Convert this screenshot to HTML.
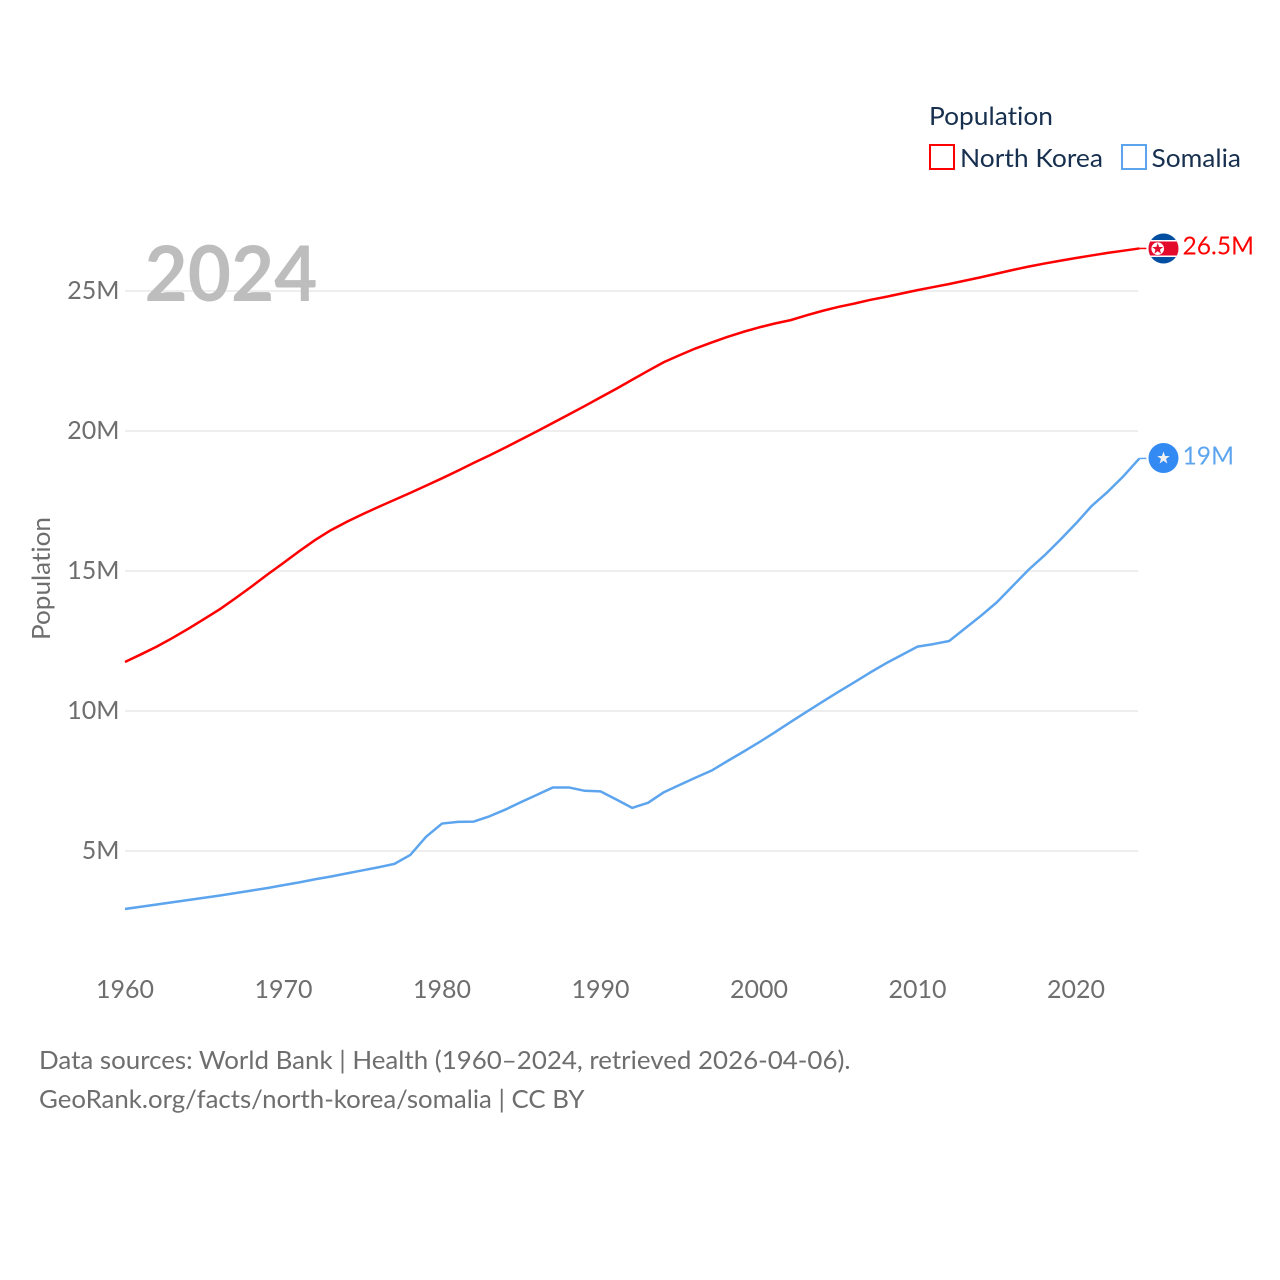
<!DOCTYPE html>
<html lang="en">
<head>
<meta charset="utf-8">
<title>North Korea and Somalia population</title>
<style>
html,body{margin:0;padding:0;background:#fff}
svg{display:block}
text{font-family:"Lato","Carlito","Liberation Sans",sans-serif;font-variant-ligatures:none}
</style>
</head>
<body>
<svg id="chart" xmlns="http://www.w3.org/2000/svg" width="1280" height="1280" viewBox="0 0 1280 1280">
  <defs>
    <clipPath id="flag-clip"><circle cx="1163.5" cy="248.5" r="15"/></clipPath>
  </defs>
  <rect width="1280" height="1280" fill="#fff"/>
  <g id="grid"></g>
  <text x="144.5" y="301" font-size="77" font-weight="700" fill="#bdbdbd" textLength="173" lengthAdjust="spacingAndGlyphs">2024</text>
  <g id="y-axis"></g>
  <g id="x-axis"></g>
  <text transform="translate(50 640) rotate(-90)" font-size="25" fill="#6e6e6e" textLength="123" lengthAdjust="spacingAndGlyphs">Population</text>
  <g id="series"></g>

  <g>
    <g clip-path="url(#flag-clip)">
      <rect x="1148" y="232" width="32" height="33" fill="#024fa2"/>
      <rect x="1148" y="240" width="32" height="17" fill="#fff"/>
      <rect x="1148" y="241.5" width="32" height="14" fill="#e30a2c"/>
    </g>
    <circle cx="1157.7" cy="248.7" r="6.3" fill="#fff"/>
    <polygon fill="#e30a2c" points="1157.7,243 1159.1,247 1163.2,247 1159.9,249.6 1161.1,253.6 1157.7,251.2 1154.3,253.6 1155.5,249.6 1152.2,247 1156.3,247"/>
  </g>
  <g>
    <circle cx="1163.5" cy="458" r="15" fill="#338af3"/>
    <polygon fill="#f0f0f0" points="1163.5,451.5 1165.1,456 1169.8,456 1166,458.9 1167.4,463.5 1163.5,460.7 1159.6,463.5 1161,458.9 1157.2,456 1161.9,456"/>
  </g>
  <text id="label-nk" x="1182.5" y="254.5" font-size="25" fill="#ff0000" textLength="71.5" lengthAdjust="spacingAndGlyphs"></text>
  <text id="label-so" x="1182.5" y="464.5" font-size="25" fill="#5ca5ee" textLength="51.5" lengthAdjust="spacingAndGlyphs"></text>

  <g>
    <text x="929" y="125" font-size="25.5" fill="#17304f" textLength="124" lengthAdjust="spacingAndGlyphs">Population</text>
    <g>
      <rect x="930" y="145" width="24" height="24" fill="none" stroke="#ff0000" stroke-width="2"/>
      <text x="960" y="167" font-size="25.5" fill="#17304f" textLength="143" lengthAdjust="spacingAndGlyphs">North Korea</text>
    </g>
    <g>
      <rect x="1122" y="145" width="24" height="24" fill="none" stroke="#5ca5ee" stroke-width="2"/>
      <text x="1151.5" y="167" font-size="25.5" fill="#17304f" textLength="89.5" lengthAdjust="spacingAndGlyphs">Somalia</text>
    </g>
  </g>

  <text x="39" y="1069" font-size="25" fill="#6e6e6e" textLength="811.5" lengthAdjust="spacingAndGlyphs">Data sources: World Bank | Health (1960–2024, retrieved 2026-04-06).</text>
  <text x="39" y="1108" font-size="25" fill="#6e6e6e" textLength="545.5" lengthAdjust="spacingAndGlyphs">GeoRank.org/facts/north-korea/somalia | CC BY</text>
</svg>
<script>
var years = [1960,1961,1962,1963,1964,1965,1966,1967,1968,1969,1970,1971,1972,1973,1974,1975,1976,1977,1978,1979,1980,1981,1982,1983,1984,1985,1986,1987,1988,1989,1990,1991,1992,1993,1994,1995,1996,1997,1998,1999,2000,2001,2002,2003,2004,2005,2006,2007,2008,2009,2010,2011,2012,2013,2014,2015,2016,2017,2018,2019,2020,2021,2022,2023,2024];
var northKorea = [11.75,12.02,12.30,12.61,12.94,13.29,13.64,14.04,14.45,14.88,15.29,15.71,16.11,16.46,16.76,17.03,17.29,17.54,17.79,18.05,18.31,18.58,18.86,19.13,19.41,19.70,19.99,20.29,20.59,20.89,21.20,21.51,21.83,22.15,22.46,22.71,22.95,23.16,23.36,23.54,23.70,23.84,23.96,24.13,24.29,24.43,24.55,24.68,24.79,24.91,25.03,25.14,25.25,25.37,25.49,25.62,25.75,25.87,25.98,26.08,26.18,26.27,26.36,26.44,26.52];
var somalia = [2.93,3.01,3.09,3.17,3.25,3.33,3.41,3.50,3.59,3.68,3.78,3.88,3.99,4.09,4.20,4.31,4.42,4.54,4.86,5.51,5.98,6.04,6.05,6.24,6.48,6.75,7.01,7.27,7.27,7.15,7.13,6.84,6.54,6.72,7.10,7.36,7.62,7.87,8.21,8.54,8.88,9.24,9.61,9.97,10.33,10.68,11.02,11.37,11.70,12.00,12.30,12.39,12.50,12.95,13.40,13.88,14.46,15.04,15.55,16.11,16.70,17.33,17.83,18.39,19.02];
var yTickValues = [5,10,15,20,25];
var xTickValues = [1960,1970,1980,1990,2000,2010,2020];
var endLabelNorthKorea = "26.5M";
var endLabelSomalia = "19M";

var NS = "http://www.w3.org/2000/svg";
function xScale(year){ return 125 + (year - 1960) * 15.85; }
function yScale(v){ return 991 - v * 28; }
function make(tag, parent){
  var el = document.createElementNS(NS, tag);
  parent.appendChild(el);
  return el;
}
function linePath(values){
  var d = "";
  for (var i = 0; i < values.length; i++){
    d += (i ? "L" : "M") + xScale(years[i]).toFixed(2) + " " + yScale(values[i]).toFixed(2);
  }
  return d;
}

var grid = document.getElementById("grid");
var yAxis = document.getElementById("y-axis");
var xAxis = document.getElementById("x-axis");
var series = document.getElementById("series");

yTickValues.forEach(function(v){
  var line = make("line", grid);
  
  
  line.setAttribute("x1", 125);
  line.setAttribute("x2", 1138);
  line.setAttribute("y1", yScale(v));
  line.setAttribute("y2", yScale(v));
  line.setAttribute("stroke", "#e9e9e9");
  line.setAttribute("stroke-width", "1.5");
  var t = make("text", yAxis);
  
  
  t.setAttribute("x", 119.5);
  t.setAttribute("y", yScale(v) + 8);
  t.setAttribute("text-anchor", "end");
  t.setAttribute("font-size", "25");
  t.setAttribute("fill", "#6e6e6e");
  t.textContent = v + "M";
});

xTickValues.forEach(function(year){
  var t = make("text", xAxis);
  
  
  t.setAttribute("x", xScale(year));
  t.setAttribute("y", 998);
  t.setAttribute("text-anchor", "middle");
  t.setAttribute("font-size", "25");
  t.setAttribute("fill", "#6e6e6e");
  t.textContent = year;
});

function drawSeries(values, color, name){
  var p = make("path", series);
  
  
  p.setAttribute("d", linePath(values));
  p.setAttribute("fill", "none");
  p.setAttribute("stroke", color);
  p.setAttribute("stroke-width", "2.5");
  p.setAttribute("stroke-linejoin", "round");
  var last = values[values.length - 1];
  var lastYear = years[years.length - 1];
  var l = make("line", series);
  
  
  l.setAttribute("x1", xScale(lastYear));
  l.setAttribute("x2", xScale(lastYear) + 7);
  l.setAttribute("y1", yScale(last));
  l.setAttribute("y2", yScale(last));
  l.setAttribute("stroke", color);
  l.setAttribute("stroke-width", "1.5");
}
drawSeries(northKorea, "#ff0000", "north-korea");
drawSeries(somalia, "#5ca5ee", "somalia");

document.getElementById("label-nk").textContent = endLabelNorthKorea;
document.getElementById("label-so").textContent = endLabelSomalia;
</script>
</body>
</html>
